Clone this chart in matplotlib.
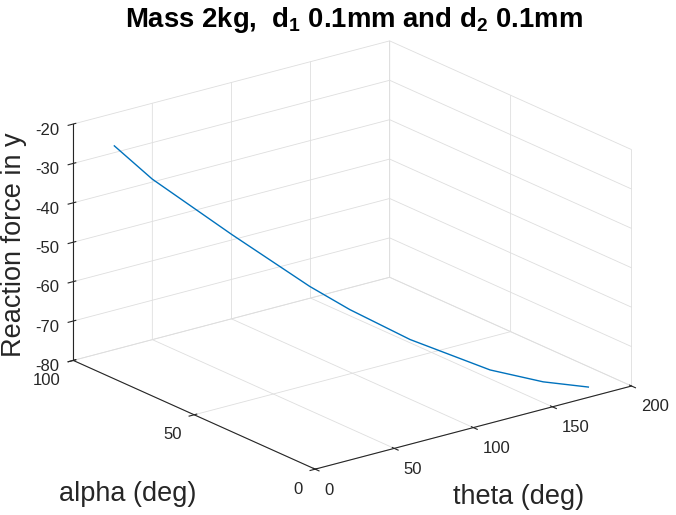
import numpy as np
import matplotlib
matplotlib.use("Agg")
import matplotlib.pyplot as plt

# data
theta = [6.1, 19.7, 48.1, 76.1, 90.4, 112.0, 140.7, 159.7, 175.9]
alpha = [87.0, 80.2, 66.0, 52.0, 44.8, 34.0, 19.7, 10.2, 2.1]
force = [-22.6, -30.6, -43.7, -56.0, -61.4, -68.3, -75.1, -77.5, -78.3]

theta_ticks = [0, 50, 100, 150, 200]
alpha_ticks = [0, 50, 100]
force_ticks = [-80, -70, -60, -50, -40, -30, -20]

plt.rcParams["font.family"] = ["Liberation Sans", "DejaVu Sans"]
plt.rcParams["grid.color"] = "#dedede"
plt.rcParams["grid.linewidth"] = 0.6
plt.rcParams["mathtext.default"] = "regular"
plt.rcParams["axes.unicode_minus"] = False

fig = plt.figure(figsize=(6.76, 5.15), dpi=100)
ax = fig.add_axes([0.011, -0.0087, 1.0, 1.0], projection="3d", proj_type="ortho")
ax.view_init(elev=20.1, azim=-127.4)
ax.set_box_aspect((1, 1, 0.632), zoom=1.163)

ax.plot(theta, alpha, force, color="#0072BD", lw=1.0)

ax.set_xlim(0, 200)
ax.set_ylim(0, 100)
ax.set_zlim(-80, -20)
ax.set_xticks(theta_ticks)
ax.set_yticks(alpha_ticks)
ax.set_zticks(force_ticks)

for axis in (ax.xaxis, ax.yaxis, ax.zaxis):
    axis.set_pane_color((1, 1, 1, 0))
    axis.pane.set_edgecolor("#dedede")
    axis.line.set_color("#262626")
    axis.line.set_linewidth(0.8)
    axis.set_tick_params(labelsize=12, colors="#262626")
ax.xaxis.set_tick_params(pad=-0.5)
ax.yaxis.set_tick_params(pad=-0.5)
ax.zaxis.set_tick_params(pad=1)
for lbl in ax.get_xticklabels():
    lbl.set_ha("left")
for lbl in ax.get_yticklabels():
    lbl.set_ha("right")

lab_kw = dict(fontsize=19.5, color="#262626")
fig.text(14 / 676, 1 - 245 / 515, "Reaction force in y", rotation=90,
         ha="center", va="center", **lab_kw)
fig.text(128 / 676, 1 - 494 / 515, "alpha (deg)", ha="center", va="center", **lab_kw)
fig.text(519 / 676, 1 - 497 / 515, "theta (deg)", ha="center", va="center", **lab_kw)

fig.text(354 / 676, 1 - 27 / 515, "Mass 2kg,  d$_1$ 0.1mm and d$_2$ 0.1mm",
         ha="center", va="baseline", fontsize=19.8, fontweight="bold")

fig.savefig("out.png", dpi=100)
